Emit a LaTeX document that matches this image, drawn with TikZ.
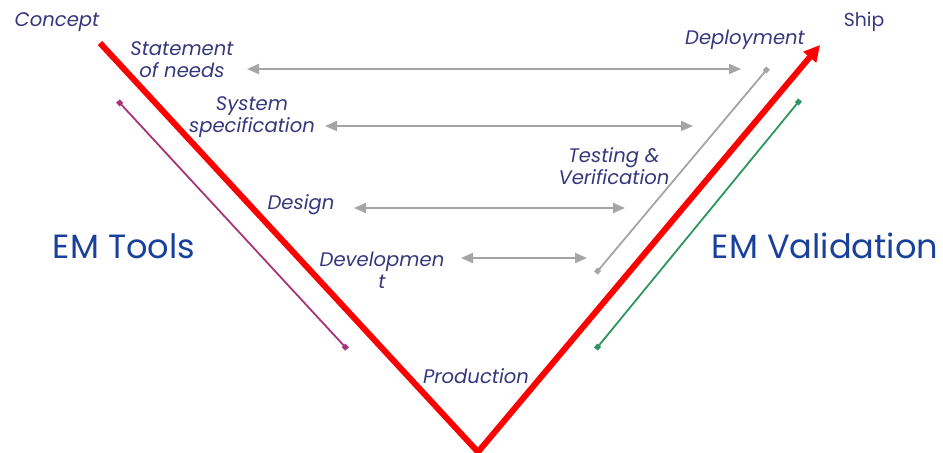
\documentclass[tikz,border=0pt]{standalone}
\usepackage{fontspec}
\setmainfont{Poppins}
\usetikzlibrary{arrows.meta, positioning}
\definecolor{lbltext}{RGB}{55,55,125}
\definecolor{emblue}{RGB}{25,65,155}
\definecolor{vred}{RGB}{255,0,0}
\definecolor{toolpink}{RGB}{170,50,120}
\definecolor{valgreen}{RGB}{45,150,95}
\definecolor{linkgray}{RGB}{165,165,165}

\begin{document}
\begin{tikzpicture} [x=0.5pt, y=-0.5pt,
        phase/.style = {text=lbltext, font=\fontsize{9.8}{11}\selectfont\itshape, align=center, inner sep=0pt},
        side/.style = {text=emblue, font=\fontsize{16.8}{20}\selectfont, inner sep=0pt},
        link/.style = {linkgray, line width=1pt, {Triangle[length=6pt,width=5pt]}-{Triangle[length=6pt,width=5pt]}},
        rail/.style = {line width=0.9pt, {Square[length=2.5pt,width=2.5pt]}-{Square[length=2.5pt,width=2.5pt]}}]
        \useasboundingbox (0,0) rectangle (943,452);

        \coordinate (concept end) at (100,43);
        \coordinate (bottom) at (478,452);
        \coordinate (ship end) at (820,45);

        \node (concept) [phase] at (57,22) {Concept};
        \node (ship) [phase, font=\fontsize{9.4}{11}\selectfont] at (864,22) {Ship};
        \node (needs) [phase] at (182,60) {Statement\\of needs};
        \node (spec) [phase] at (252,117) {System\\specification};
        \node (design) [phase] at (301,205) {Design};
        \node (devel) [phase] at (382,270) {Developmen\\t};
        \node (prod) [phase] at (476,376) {Production};
        \node (test) [phase] at (614,166) {Testing \&\\Verification};
        \node (deploy) [phase] at (745,40) {Deployment};
        \node (tools) [side] at (124,246) {EM Tools};
        \node (valid) [side] at (825,246) {EM Validation};

        \coordinate (needs r) at (247,69);   \coordinate (deploy l) at (741,69);
        \coordinate (spec r) at (325,126);   \coordinate (test top) at (693,126);
        \coordinate (design r) at (354,208); \coordinate (test bot) at (625,208);
        \coordinate (devel r) at (461,258);  \coordinate (devel l) at (587,258);
        \coordinate (tools a) at (118,101);  \coordinate (tools b) at (347,349);
        \coordinate (valid a) at (596,349);  \coordinate (valid b) at (800,100);
        \coordinate (check a) at (596,273);  \coordinate (check b) at (768,68);

        \draw [link] (needs r) -- (deploy l);
        \draw [link] (spec r) -- (test top);
        \draw [link] (design r) -- (test bot);
        \draw [link] (devel r) -- (devel l);

        \draw [rail, toolpink] (tools a) -- (tools b);
        \draw [rail, valgreen] (valid a) -- (valid b);
        \draw [rail, linkgray] (check a) -- (check b);

        \draw [vred, line width=3pt, line join=miter, -{Triangle[length=8pt,width=8pt]}] (concept end) -- (bottom) -- (ship end);
    \end{tikzpicture}
\end{document}
